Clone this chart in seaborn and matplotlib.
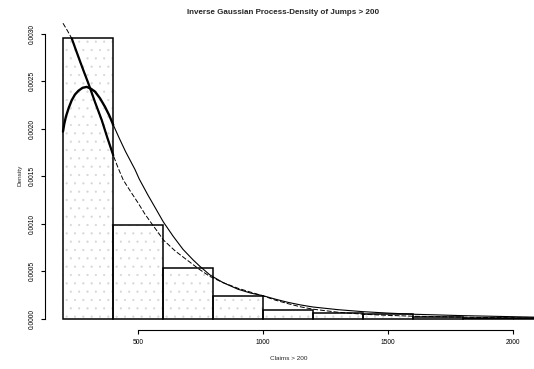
import numpy as np
import pandas as pd
import matplotlib
matplotlib.use("Agg")
import matplotlib.pyplot as plt
import seaborn as sns

# ---- data ----
bin_edges = [200, 400, 600, 800, 1000, 1200, 1400, 1600, 1800, 2000, 2200]
bin_density = [0.00295, 0.000982, 0.000537, 0.000235, 0.0000947,
               0.000063, 0.000047, 0.000016, 0.000011, 0.000005]

# steep fitted curve (dashed outside first bar)
curve_a_x = [200, 218, 235, 250, 268, 285, 301, 328, 355, 378, 401, 420, 441,
             470, 500, 528, 555, 580, 601, 650, 700, 745, 788, 840, 900, 950,
             1000, 1050, 1100, 1150, 1200, 1300, 1400, 1500, 1600, 1800, 2000, 2090]
curve_a_y = [0.00311, 0.00303, 0.00295, 0.00284, 0.00271, 0.00259, 0.00248,
             0.00228, 0.00209, 0.00190, 0.00172, 0.00159, 0.00146, 0.00134,
             0.00122, 0.00110, 0.00100, 0.00091, 0.00083, 0.00071, 0.00061,
             0.00052, 0.000444, 0.00038, 0.00032, 0.00028, 0.00024, 0.000195,
             0.000158, 0.000125, 0.000100, 0.000068, 0.000047, 0.000035,
             0.000026, 0.000016, 0.000008, 0.000006]

# humped curve with longer tail
curve_b_x = [200, 205, 212, 223, 235, 248, 262, 278, 295, 312, 328, 348, 368,
             385, 401, 425, 450, 470, 488, 505, 540, 575, 601, 640, 680, 720,
             748, 788, 840, 900, 950, 1000, 1050, 1100, 1150, 1200, 1300, 1400,
             1500, 1600, 1800, 2000, 2090]
curve_b_y = [0.00197, 0.00205, 0.00213, 0.00222, 0.00230, 0.00236, 0.00240,
             0.00243, 0.00244, 0.00242, 0.00239, 0.00232, 0.00223, 0.00214,
             0.00204, 0.00190, 0.00176, 0.00166, 0.00157, 0.00147, 0.00130,
             0.00114, 0.00102, 0.00087, 0.00073, 0.00062, 0.00055, 0.00046,
             0.00038, 0.00031, 0.00027, 0.000242, 0.000205, 0.000172, 0.000145,
             0.000123, 0.000095, 0.000074, 0.000059, 0.000047, 0.000032,
             0.000021, 0.000016]

x_ticks = [500, 1000, 1500, 2000]
y_ticks = [0.0, 0.0005, 0.0010, 0.0015, 0.0020, 0.0025, 0.0030]
y_tick_labels = ["0.0000", "0.0005", "0.0010", "0.0015", "0.0020", "0.0025", "0.0030"]
title_text = "Inverse Gaussian Process-Density of Jumps > 200"
x_label = "Claims > 200"
y_label = "Density"

# ---- styling ----
sns.set_style("white")
plt.rcParams["font.family"] = ["Liberation Sans", "DejaVu Sans"]
plt.rcParams["hatch.linewidth"] = 0.35

W, H = 534, 369
fig = plt.figure(figsize=(W / 100, H / 100), dpi=100)
ax = fig.add_axes([45 / W, 1 - 330 / H, (534 - 45) / W, (330 - 20) / H])

centers = [(a + b) / 2 for a, b in zip(bin_edges[:-1], bin_edges[1:])]
hist_df = pd.DataFrame({"x": centers, "w": bin_density})

# light stipple inside bars
sns.histplot(data=hist_df, x="x", weights="w", bins=bin_edges, stat="count",
             fill=True, color="white", edgecolor="#d6d6d6", hatch="..",
             linewidth=0, alpha=1, ax=ax)
# bar outlines
sns.histplot(data=hist_df, x="x", weights="w", bins=bin_edges, stat="count",
             fill=False, color="black", linewidth=1.1, ax=ax)

# curves
ax_ = np.array(curve_a_x); ay_ = np.array(curve_a_y)
bx_ = np.array(curve_b_x); by_ = np.array(curve_b_y)

sns.lineplot(x=ax_, y=ay_, color="black", lw=0.7, linestyle=(0, (5, 2)),
             sort=False, estimator=None, ax=ax)
m = (ax_ >= 235) & (ax_ <= 401)
sns.lineplot(x=ax_[m], y=ay_[m], color="black", lw=1.6,
             sort=False, estimator=None, ax=ax)

mb1 = bx_ <= 401
sns.lineplot(x=bx_[mb1], y=by_[mb1], color="black", lw=1.7,
             sort=False, estimator=None, ax=ax)
mb2 = bx_ >= 401
sns.lineplot(x=bx_[mb2], y=by_[mb2], color="black", lw=0.8,
             sort=False, estimator=None, ax=ax)

ax.set_xlim(128, 2084)
ax.set_ylim(-0.000119, 0.003144)
ax.set_xlabel("")
ax.set_ylabel("")

for s in ["top", "right"]:
    ax.spines[s].set_visible(False)
ax.spines["left"].set_bounds(0, 0.003)
ax.spines["bottom"].set_bounds(500, 2000)
ax.spines["left"].set_linewidth(0.8)
ax.spines["bottom"].set_linewidth(0.8)
ax.spines["left"].set_color("black")
ax.spines["bottom"].set_color("black")

ax.set_xticks(x_ticks)
ax.set_xticklabels([str(t) for t in x_ticks])
ax.set_yticks(y_ticks)
ax.set_yticklabels(y_tick_labels, rotation=90, va="center")
ax.tick_params(axis="both", direction="out", length=3, width=0.8,
               labelsize=4.8, pad=3.5, colors="black", bottom=True, left=True)

fig.text(283 / W, 1 - 12 / H, title_text, ha="center", va="center",
         fontsize=5.8, fontweight="bold")
fig.text(289 / W, 1 - 359 / H, x_label, ha="center", va="center", fontsize=4.6)
fig.text(20 / W, 1 - 175 / H, y_label, ha="center", va="center", fontsize=4.6,
         rotation=90)

fig.savefig("out.png", dpi=100)
